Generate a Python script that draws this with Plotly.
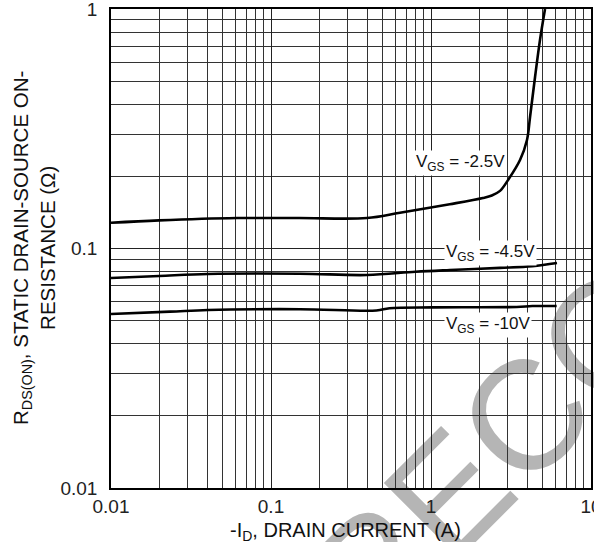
import numpy as np
import plotly.graph_objects as go

# ---- data ----
x_vgs25 = [0.01, 0.02, 0.0613, 0.15, 0.398, 0.64, 1.31, 2.11, 2.40, 2.70, 3.03, 3.60, 3.98, 4.16, 4.47, 4.80, 5.16]
y_vgs25 = [0.128, 0.131, 0.134, 0.134, 0.134, 0.141, 0.153, 0.1625, 0.1665, 0.174, 0.193, 0.234, 0.284, 0.354, 0.52, 0.743, 1.0]

x_vgs45 = [0.01, 0.02, 0.0404, 0.152, 0.398, 0.8, 1.31, 2.7, 4.3, 6.13]
y_vgs45 = [0.0753, 0.0768, 0.0783, 0.0785, 0.0775, 0.080, 0.0813, 0.083, 0.0844, 0.087]

x_vgs10 = [0.01, 0.0234, 0.0404, 0.152, 0.456, 0.55, 1.03, 3.43, 4.3, 6.1]
y_vgs10 = [0.0533, 0.0545, 0.0554, 0.0558, 0.0551, 0.0563, 0.0568, 0.057, 0.0575, 0.0575]

series_names = ["V<sub>GS</sub> = -2.5V", "V<sub>GS</sub> = -4.5V", "V<sub>GS</sub> = -10V"]

x_decades = [0.01, 0.1, 1, 10]
x_tick_labels = ["0.01", "0.1", "1", "10"]
y_decades = [0.01, 0.1, 1]
y_tick_labels = ["0.01", "0.1", "1"]

x_title = "-I<sub>D</sub>, DRAIN CURRENT (A)"
y_title = "R<sub>DS(ON)</sub>, STATIC DRAIN-SOURCE ON-<br>RESISTANCE (\u03a9)"
watermark = "RECO"

FONT = "Liberation Sans, Arial, sans-serif"


def minor_values(decades):
    vals = []
    for d in decades[:-1]:
        vals.extend(d * m for m in range(2, 10))
    return vals


fig = go.Figure()
for xs, ys in [(x_vgs25, y_vgs25), (x_vgs45, y_vgs45), (x_vgs10, y_vgs10)]:
    fig.add_trace(go.Scatter(x=xs, y=ys, mode="lines",
                             line=dict(color="black", width=2.6, shape="spline", smoothing=1.0),
                             showlegend=False, hoverinfo="skip"))

# curve labels (position in data coordinates)
label_pos = [(1.52, 0.2275), (2.34, 0.0958), (2.27, 0.048)]
for name, (lx, ly) in zip(series_names, label_pos):
    fig.add_annotation(x=np.log10(lx), y=np.log10(ly), xref="x", yref="y",
                       text=name, showarrow=False, bgcolor="white", borderpad=1,
                       font=dict(family=FONT, size=17, color="#111"))

# axis titles
fig.add_annotation(x=(33.5 - 111) / 480, y=0.5, xref="paper", yref="paper",
                   text=y_title, textangle=-90, showarrow=False,
                   xanchor="center", yanchor="middle",
                   font=dict(family=FONT, size=20.5, color="#111"))
fig.add_annotation(x=(345 - 111) / 480, y=(488 - 531) / 479, xref="paper", yref="paper",
                   text=x_title, showarrow=False, xanchor="center", yanchor="middle",
                   font=dict(family=FONT, size=20, color="#111"))

# faint watermark behind the grid
cx, cy = (481 - 111) / 480, (488 - 440) / 479
fig.add_shape(type="rect", xref="paper", yref="paper",
              x0=cx - 0.05, x1=cx + 0.05, y0=cy - 0.05, y1=cy + 0.05,
              line=dict(width=0), fillcolor="rgba(0,0,0,0)", layer="below",
              label=dict(text=watermark, textangle=-45, textposition="middle center",
                         font=dict(family=FONT, size=155, color="#b5b5b5")))

axis_common = dict(type="log", showline=True, mirror=True, linecolor="black", linewidth=1.5,
                   showgrid=True, gridcolor="#222", gridwidth=1, ticks="", zeroline=False,
                   tickangle=0, ticklabeloverflow="allow",
                   tickfont=dict(family=FONT, size=19, color="#222"))

fig.update_xaxes(range=[-2, 1], tickmode="array",
                 tickvals=x_decades, ticktext=x_tick_labels, ticklabelstandoff=0,
                 minor=dict(tickmode="array", tickvals=minor_values(x_decades), ticks="",
                            showgrid=True, gridcolor="#333", gridwidth=1),
                 **axis_common)
fig.update_yaxes(range=[-2, 0], tickmode="array",
                 tickvals=y_decades, ticktext=y_tick_labels, ticklabelstandoff=8,
                 minor=dict(tickmode="array", tickvals=minor_values(y_decades), ticks="",
                            showgrid=True, gridcolor="#333", gridwidth=1),
                 **axis_common)

fig.update_layout(width=594, height=542,
                  margin=dict(l=111, r=3, t=9, b=54, autoexpand=False),
                  paper_bgcolor="white", plot_bgcolor="white",
                  font=dict(family=FONT))

fig.write_html("out.html", config={"displayModeBar": False},
               post_script="document.body.style.margin='0';document.body.style.padding='0';")
